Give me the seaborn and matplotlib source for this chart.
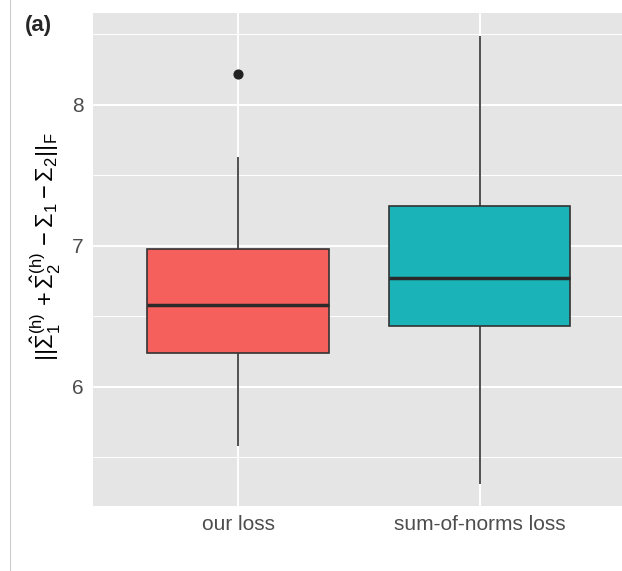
import matplotlib
matplotlib.use("Agg")
import matplotlib.pyplot as plt
from matplotlib.lines import Line2D
import seaborn as sns
import pandas as pd

# box summary (values in the y units of the plot)
groups = ["our loss", "sum-of-norms loss"]
lower_whisker = [5.58, 5.31]
q1 = [6.24, 6.43]
median = [6.58, 6.77]
q3 = [6.98, 7.28]
upper_whisker = [7.63, 8.49]
outliers = [[8.22], []]
colors = ["#F55F5C", "#1AB3B7"]

# build samples whose quartiles/whiskers equal the values above
rows = []
for i, g in enumerate(groups):
    vals = [lower_whisker[i], q1[i], q1[i], median[i], median[i],
            q3[i], q3[i], upper_whisker[i]] + outliers[i]
    rows += [(g, v) for v in vals]
df = pd.DataFrame(rows, columns=["method", "err"])

sns.set_style("darkgrid")
plt.rcParams["font.family"] = ["Liberation Sans", "DejaVu Sans"]
plt.rcParams["mathtext.fontset"] = "custom"
plt.rcParams["mathtext.rm"] = "Liberation Sans"
plt.rcParams["mathtext.it"] = "Liberation Sans"
plt.rcParams["mathtext.bf"] = "Liberation Sans:bold"

fig = plt.figure(figsize=(6.22, 5.71), dpi=100)
ax = fig.add_axes([93 / 622, 65 / 571, 531.7 / 622, 493 / 571])
ax.set_facecolor("#E5E5E5")

sns.boxplot(data=df, x="method", y="err", hue="method", palette=colors,
            order=groups, hue_order=groups, legend=False, saturation=1,
            width=0.75, whis=1.5, linecolor="#333333", linewidth=1.2,
            showcaps=False, fliersize=6.3,
            medianprops={"color": "#2a2a2a", "linewidth": 2.5},
            flierprops={"marker": "o", "markerfacecolor": "#222222",
                        "markeredgecolor": "#222222"},
            ax=ax, zorder=3)

ax.set_xlim(-0.6, 1.6)
ax.set_ylim(5.156, 8.652)
ax.set_yticks([6, 7, 8])
ax.set_yticks([5.5, 6.5, 7.5, 8.5], minor=True)
ax.grid(which="major", color="white", linewidth=1.4)
ax.grid(which="minor", axis="y", color="white", linewidth=0.7)
ax.set_axisbelow(True)
for s in ax.spines.values():
    s.set_visible(False)

ax.tick_params(axis="both", which="major", length=3.5, width=0.9, color="#333333",
               labelcolor="#4D4D4D", labelsize=15, pad=3)
ax.tick_params(axis="y", which="minor", length=0)
ax.set_xlabel("")
ax.set_ylabel(r"$||\hat{\Sigma}_1^{(h)}\,+\hat{\Sigma}_2^{(h)}\,-\Sigma_1-\Sigma_2||_F$",
              fontsize=17, color="black")
ax.yaxis.set_label_coords(-0.056, 0.525)

fig.text(25 / 622, 1 - 25 / 571, "(a)", fontsize=16, fontweight="bold",
         va="center", ha="left")
fig.add_artist(Line2D([9.5 / 622, 9.5 / 622], [0, 1], transform=fig.transFigure,
                      color="#CCCCCC", linewidth=0.8))

plt.savefig("out.png", dpi=100)
